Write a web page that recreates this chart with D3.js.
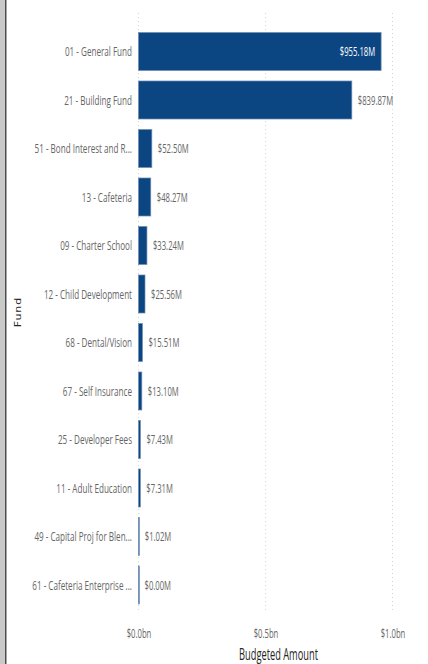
<!DOCTYPE html>
<html>
<head>
<meta charset="utf-8">
<script src="https://cdn.jsdelivr.net/npm/d3@7"></script>
<style>
  body { margin: 0; background: #fff; }
  svg { display: block; }
  text { font-family: "Open Sans", "Noto Sans", sans-serif; }
</style>
</head>
<body>
<script>
const w = 428;
const h = 664;
const sxCat = 0.6; // text squeeze to mimic the condensed font
const sxVal = 0.57;

// data
const funds = [
  "01 - General Fund",
  "21 - Building Fund",
  "51 - Bond Interest and R...",
  "13 - Cafeteria",
  "09 - Charter School",
  "12 - Child Development",
  "68 - Dental/Vision",
  "67 - Self Insurance",
  "25 - Developer Fees",
  "11 - Adult Education",
  "49 - Capital Proj for Blen...",
  "61 - Cafeteria Enterprise ..."
];
const amountsM = [955.18, 839.87, 52.50, 48.27, 33.24, 25.56, 15.51, 13.10, 7.43, 7.31, 1.02, 0.00];
const xTicks = [0, 0.5e9, 1.0e9];
const xTickLabels = ["$0.0bn", "$0.5bn", "$1.0bn"];

const dataset = funds.map((f, i) => ({ fund: f, value: amountsM[i] * 1e6 }));

const svg = d3.select("body").append("svg")
  .attr("width", w)
  .attr("height", h);

// left panel edge
svg.append("rect").attr("x", 0).attr("y", 0).attr("width", 5).attr("height", h).attr("fill", "#c9c9c9");
svg.append("rect").attr("x", 5).attr("y", 0).attr("width", 1.5).attr("height", h).attr("fill", "#4d4d4d");

const x = d3.scaleLinear()
  .domain([0, 1e9])
  .range([138.5, 392.5]);

const y = d3.scaleBand()
  .domain(funds)
  .range([27.25, 609.25])
  .paddingInner(0.216)
  .paddingOuter(0.108);

// gridlines
svg.append("g")
  .selectAll("line")
  .data(xTicks)
  .enter()
  .append("line")
  .attr("x1", d => x(d))
  .attr("x2", d => x(d))
  .attr("y1", 13)
  .attr("y2", 612)
  .attr("stroke", "#d4d4d4")
  .attr("stroke-width", 1)
  .attr("stroke-dasharray", "1,3");

// bars
svg.append("g")
  .selectAll("rect")
  .data(dataset)
  .enter()
  .append("rect")
  .attr("x", x(0))
  .attr("y", d => y(d.fund))
  .attr("width", d => Math.max(x(d.value) - x(0), 0.8))
  .attr("height", y.bandwidth())
  .attr("fill", "#0c4682")
  .attr("stroke", "#6d8db4")
  .attr("stroke-width", 0.7);

// category labels
svg.append("g")
  .selectAll("text")
  .data(dataset)
  .enter()
  .append("text")
  .attr("transform", d => `translate(132,${y(d.fund) + y.bandwidth() / 2}) scale(${sxCat},1)`)
  .attr("dy", "0.35em")
  .attr("text-anchor", "end")
  .attr("font-size", 13.5)
  .attr("fill", "#666666")
  .text(d => d.fund);

// value labels
const fmt = d3.format(".2f");
svg.append("g")
  .selectAll("text")
  .data(dataset)
  .enter()
  .append("text")
  .attr("transform", (d, i) => {
    const inside = i === 0;
    const px = inside ? x(d.value) - 6 : x(d.value) + 6;
    return `translate(${px},${y(d.fund) + y.bandwidth() / 2}) scale(${sxVal},1)`;
  })
  .attr("dy", "0.35em")
  .attr("text-anchor", (d, i) => i === 0 ? "end" : "start")
  .attr("font-size", 13.5)
  .attr("fill", (d, i) => i === 0 ? "#ffffff" : "#666666")
  .text(d => "$" + fmt(d.value / 1e6) + "M");

// x axis
const xAxis = d3.axisBottom(x)
  .tickValues(xTicks)
  .tickFormat((d, i) => xTickLabels[i])
  .tickSize(0)
  .tickPadding(0);

const gx = svg.append("g")
  .attr("transform", "translate(0,628)")
  .call(xAxis);
gx.select(".domain").remove();
gx.selectAll("text")
  .attr("font-size", 13.5)
  .attr("fill", "#666666")
  .attr("font-family", "Open Sans, Noto Sans, sans-serif")
  .attr("dy", "0.71em")
  .attr("transform", `scale(${sxVal},1)`);

// axis titles
svg.append("text")
  .attr("transform", `translate(${(x(0) + x(1e9)) / 2 + 13},660) scale(0.58,1)`)
  .attr("text-anchor", "middle")
  .attr("font-size", 16)
  .attr("fill", "#252423")
  .text("Budgeted Amount");

svg.append("text")
  .attr("transform", "translate(21,312) rotate(-90) scale(1,0.8)")
  .attr("text-anchor", "middle")
  .attr("font-size", 11)
  .attr("letter-spacing", 1)
  .attr("fill", "#252423")
  .style("font-family", "DejaVu Sans, sans-serif")
  .text("Fund");
</script>
</body>
</html>
